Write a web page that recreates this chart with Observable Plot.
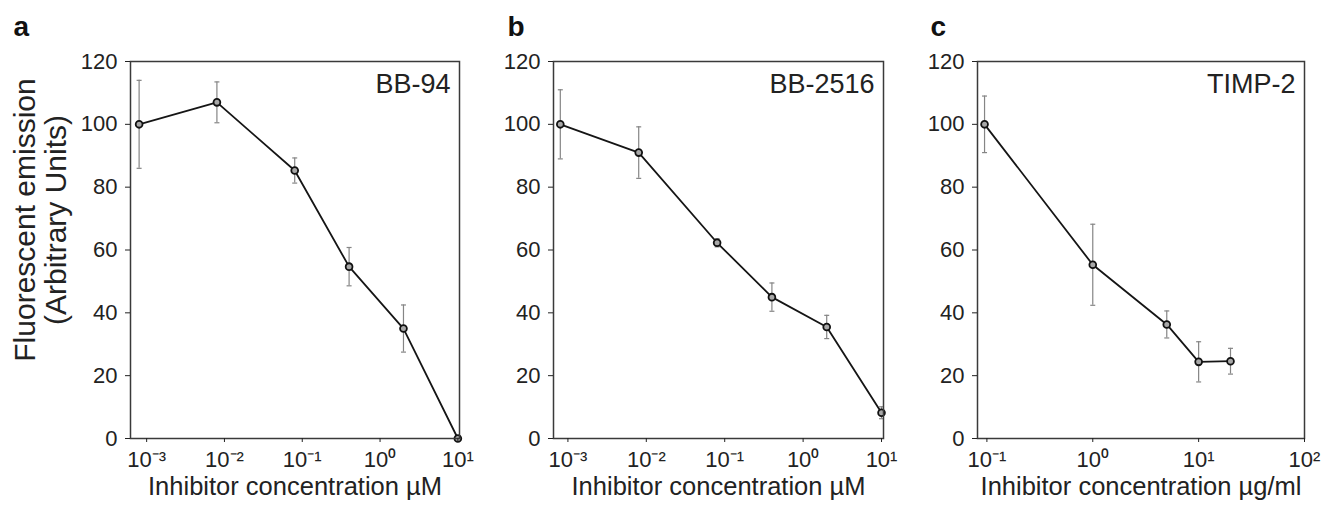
<!DOCTYPE html>
<html><head><meta charset="utf-8">
<script src="https://cdn.jsdelivr.net/npm/d3@7"></script>
<script src="https://cdn.jsdelivr.net/npm/@observablehq/plot@0.6"></script>
<style>
body{margin:0;background:#fff;}
#wrap{position:relative;width:1328px;height:508px;overflow:hidden;background:#fff;}
#wrap > div{position:absolute;top:0;}
</style></head><body><div id="wrap"></div>
<script>
// ---- data ----
const bb94Conc = [0.0008, 0.008, 0.08, 0.4, 2, 10];
const bb94Mean = [100, 107, 85.3, 54.7, 35, 0];
const bb94Err  = [14, 6.5, 4, 6.1, 7.5, 0];

const bb2516Conc = [0.0008, 0.008, 0.08, 0.4, 2, 10];
const bb2516Mean = [100, 91, 62.3, 45, 35.5, 8.2];
const bb2516Err  = [11, 8.2, 1.3, 4.5, 3.7, 1.9];

const timp2Conc = [0.095, 1, 5, 10, 20];
const timp2Mean = [100, 55.3, 36.3, 24.4, 24.6];
const timp2Err  = [9, 12.9, 4.3, 6.4, 4.1];

const yTicks = [0, 20, 40, 60, 80, 100, 120];
const xTicksMicroM = [1e-3, 1e-2, 1e-1, 1, 10];
const xTicksMicroG = [0.1, 1, 10, 100];
const panelLetters = ["a", "b", "c"];
const panelNames = ["BB-94", "BB-2516", "TIMP-2"];
const xLabels = ["Inhibitor concentration µM", "Inhibitor concentration µM", "Inhibitor concentration µg/ml"];
const yTitle = "Fluorescent emission\n(Arbitrary Units)";

// ---- helpers ----
const sup = {"-": "⁻", "0": "⁰", "1": "¹", "2": "²", "3": "³", "4": "⁴"};
const fmt = d => "10" + String(Math.round(Math.log10(d))).replace(/./g, c => sup[c]);
const cap = {draw(ctx, size) { const r = Math.sqrt(size / Math.PI); ctx.moveTo(-r, 0); ctx.lineTo(r, 0); }};
const FONT = "'Liberation Sans', Arial, Helvetica, sans-serif";

function rows(conc, mean, err) {
  return conc.map((c, i) => ({c, m: mean[i], e: err[i]}));
}

function panel({data, domain, ticks, idx, left, width, mL, mR, withTitle}) {
  const withErr = data.filter(d => d.e > 0);
  const marks = [
    Plot.ruleX(withErr, {x: "c", y1: d => d.m - d.e, y2: d => d.m + d.e, stroke: "#858585", strokeWidth: 1.2}),
    Plot.dot(withErr, {x: "c", y: d => d.m - d.e, symbol: cap, r: 2.5, stroke: "#858585", strokeWidth: 1.2}),
    Plot.dot(withErr, {x: "c", y: d => d.m + d.e, symbol: cap, r: 2.5, stroke: "#858585", strokeWidth: 1.2}),
    Plot.line(data, {x: "c", y: "m", stroke: "#151515", strokeWidth: 1.8}),
    Plot.dot(data, {x: "c", y: "m", r: 3.4, stroke: "#111", strokeWidth: 1.8, fill: "#a8a8a8"}),
    Plot.frame({stroke: "#3a3a3a", strokeWidth: 1.5}),
    Plot.axisY({ticks: yTicks, tickSize: 5, tickPadding: 8, label: null, fontSize: 22}),
    Plot.axisX({ticks, tickFormat: fmt, tickSize: 4, tickPadding: 9, label: null, fontSize: 22}),
    Plot.text([xLabels[idx]], {text: d => d, frameAnchor: "bottom", dy: 56, fontSize: 25.5, fill: "#222"}),
    Plot.text([panelNames[idx]], {text: d => d, frameAnchor: "top-right", textAnchor: "end", lineAnchor: "bottom", dx: -9, dy: 31, fontSize: 27, fill: "#222"}),
    Plot.text([panelLetters[idx]], {text: d => d, frameAnchor: "top-left", textAnchor: "start", lineAnchor: "bottom", dx: [-117, -46, -47][idx], dy: -26, fontSize: 28, fontWeight: "bold", fill: "#111"})
  ];
  if (withTitle) {
    marks.push(Plot.text([yTitle], {text: d => d, frameAnchor: "left", textAnchor: "middle", lineAnchor: "middle", rotate: -90, dx: -90, dy: -30, fontSize: 30, lineHeight: 1.05, fill: "#222"}));
  }
  const chart = Plot.plot({
    width, height: 508,
    marginLeft: mL, marginRight: mR, marginTop: 61, marginBottom: 70,
    x: {type: "log", domain},
    y: {domain: [0, 120]},
    style: {fontFamily: FONT, fontSize: "22px", color: "#222", background: "transparent", overflow: "visible"},
    marks
  });
  const div = document.createElement("div");
  div.style.left = left + "px";
  div.appendChild(chart);
  document.getElementById("wrap").appendChild(div);
}

panel({data: rows(bb94Conc, bb94Mean, bb94Err), domain: [6.2e-4, 10.5], ticks: xTicksMicroM, idx: 0, left: 0, width: 470, mL: 130, mR: 11, withTitle: true});
panel({data: rows(bb2516Conc, bb2516Mean, bb2516Err), domain: [6.55e-4, 10.6], ticks: xTicksMicroM, idx: 1, left: 470, width: 430, mL: 83, mR: 17});
panel({data: rows(timp2Conc, timp2Mean, timp2Err), domain: [0.0815, 100], ticks: xTicksMicroG, idx: 2, left: 900, width: 428, mL: 77, mR: 24});
</script></body></html>
